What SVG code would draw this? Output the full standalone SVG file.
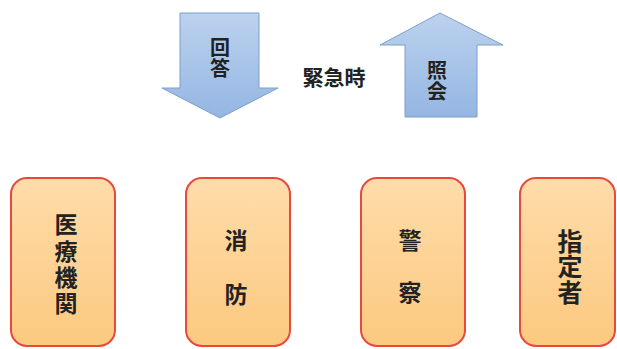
<svg xmlns="http://www.w3.org/2000/svg" width="617" height="349" viewBox="0 0 617 349">
<defs>
<linearGradient id="blue" x1="0" y1="0" x2="0" y2="1">
<stop offset="0" stop-color="#bcd2ee"/>
<stop offset="1" stop-color="#94b6e2"/>
</linearGradient>
<linearGradient id="orange" x1="0" y1="0" x2="0" y2="1">
<stop offset="0" stop-color="#fedcaa"/>
<stop offset="1" stop-color="#fcc97f"/>
</linearGradient>
</defs>
<style>
.arrow{fill:url(#blue);stroke:#7d9fcb;stroke-width:1}
.box{fill:url(#orange);stroke:#e8493e;stroke-width:2}
text{font-family:"Noto Sans CJK JP","Noto Sans CJK SC",sans-serif;font-weight:bold;fill:#222;text-anchor:middle}
.v{writing-mode:vertical-rl}
.h{dominant-baseline:central}
</style>
<rect width="617" height="349" fill="#ffffff"/>
<g id="connectors">
<g id="answer-arrow">
<polygon class="arrow" points="180,13 259,13 259,88 278,88 220,118 162,88 180,88"/>
<text class="v" x="220" y="58" font-size="20" letter-spacing="1">回答</text>
</g>
<g id="inquiry-arrow">
<polygon class="arrow" points="440,13 503,45 477,45 477,117 405,117 405,45 380,45"/>
<text class="v" x="437" y="81" font-size="20" letter-spacing="1">照会</text>
</g>
<text class="h" x="334" y="76" font-size="21">緊急時</text>
</g>
<g id="medical">
<rect class="box" x="11" y="178" width="104" height="168" rx="16"/>
<text class="v" x="66" y="265.6" font-size="23" letter-spacing="3.3">医療機関</text>
</g>
<g id="fire">
<rect class="box" x="186" y="178" width="104" height="168" rx="16"/>
<text class="v" x="236" y="282.5" font-size="23" letter-spacing="30.5">消防</text>
</g>
<g id="police">
<rect class="box" x="361" y="178" width="104" height="168" rx="16"/>
<text class="v" x="410" y="280.5" font-size="23" letter-spacing="29">警察</text>
</g>
<g id="designated">
<rect class="box" x="520" y="178" width="95" height="168" rx="16"/>
<text class="v" x="570" y="266.75" font-size="25" letter-spacing="0.5">指定者</text>
</g>
</svg>
